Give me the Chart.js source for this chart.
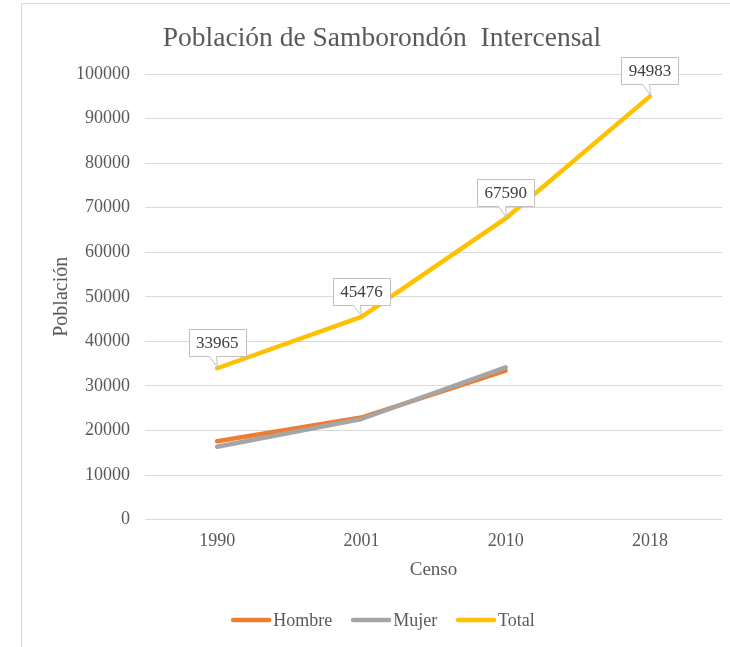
<!DOCTYPE html>
<html>
<head>
<meta charset="utf-8">
<script src="https://cdn.jsdelivr.net/npm/chart.js@4.4.0/dist/chart.umd.min.js"></script>
<style>
html, body { margin: 0; padding: 0; background: #fff; overflow: hidden; }
#marco { position: absolute; left: 21px; top: 3px; width: 728px; height: 660px; border-left: 1px solid #d9d9d9; border-top: 1px solid #d9d9d9; }
canvas { display: block; }
</style>
</head>
<body>
<div id="marco"><canvas id="grafico" width="728" height="643"></canvas></div>
<script>
// Datos del censo
const censos = ['1990', '2001', '2010', '2018'];
const hombres = [17600, 22900, 33430, null];
const mujeres = [16365, 22576, 34160, null];
const totales = [33965, 45476, 67590, 94983];
const titulo = 'Población de Samborondón  Intercensal';

const fuente = "'Liberation Serif', 'Times New Roman', serif";
const gris = '#595959';

// Titulo centrado en todo el recuadro
const cabecera = {
    id: 'cabecera',
    afterDraw(chart) {
        const ctx = chart.ctx;
        ctx.save();
        ctx.font = '27.5px ' + fuente;
        ctx.fillStyle = gris;
        ctx.textAlign = 'center';
        ctx.textBaseline = 'middle';
        ctx.fillText(titulo, 360, 35);
        ctx.restore();
    }
};

// Cuadros con el valor del total
const etiquetas = {
    id: 'etiquetas',
    afterDatasetsDraw(chart) {
        const ctx = chart.ctx;
        const meta = chart.getDatasetMeta(2);
        ctx.save();
        ctx.font = '17px ' + fuente;
        ctx.textAlign = 'center';
        ctx.textBaseline = 'middle';
        meta.data.forEach(function(p, i) {
            const txt = String(totales[i]);
            const w = Math.round(ctx.measureText(txt).width + 14);
            const h = 27;
            const px = Math.round(p.x) + 0.5;
            const x0 = Math.round(p.x - w / 2) + 0.5;
            const yb = Math.round(p.y - 12) + 0.5;
            const y0 = yb - h;
            ctx.beginPath();
            ctx.moveTo(x0, y0);
            ctx.lineTo(x0 + w, y0);
            ctx.lineTo(x0 + w, yb);
            ctx.lineTo(px - 1, yb);
            ctx.lineTo(px, p.y - 1);
            ctx.lineTo(px - 8, yb);
            ctx.lineTo(x0, yb);
            ctx.closePath();
            ctx.fillStyle = '#fff';
            ctx.fill();
            ctx.strokeStyle = '#bfbfbf';
            ctx.lineWidth = 1;
            ctx.stroke();
            ctx.fillStyle = '#404040';
            ctx.fillText(txt, p.x, y0 + h / 2 + 1);
        });
        ctx.restore();
    }
};

// Leyenda abajo, dibujada a mano
const leyenda = {
    id: 'leyenda',
    afterDraw(chart) {
        const ctx = chart.ctx;
        const ds = chart.data.datasets;
        ctx.save();
        ctx.font = '18px ' + fuente;
        const linea = 40, hueco = 2, sep = 19;
        let total = 0;
        ds.forEach(function(d, i) {
            total += linea + hueco + ctx.measureText(d.label).width + (i < ds.length - 1 ? sep : 0);
        });
        let x = chart.width / 2 - total / 2 - 3;
        const y = 616;
        ctx.textBaseline = 'middle';
        ds.forEach(function(d) {
            ctx.strokeStyle = d.borderColor;
            ctx.lineWidth = 4.5;
            ctx.lineCap = 'round';
            ctx.beginPath();
            ctx.moveTo(x + 2, y);
            ctx.lineTo(x + linea - 2, y);
            ctx.stroke();
            x += linea + hueco;
            ctx.fillStyle = gris;
            ctx.fillText(d.label, x, y + 1);
            x += ctx.measureText(d.label).width + sep;
        });
        ctx.restore();
    }
};

new Chart(document.getElementById('grafico'), {
    type: 'line',
    data: {
        labels: censos,
        datasets: [
            { label: 'Hombre', data: hombres, borderColor: '#ED7D31', order: 3 },
            { label: 'Mujer', data: mujeres, borderColor: '#A5A5A5', order: 2 },
            { label: 'Total', data: totales, borderColor: '#FFC000', order: 1 }
        ]
    },
    options: {
        responsive: false,
        animation: false,
        elements: {
            line: { borderWidth: 4.5, tension: 0, borderCapStyle: 'round', borderJoinStyle: 'round' },
            point: { radius: 0, hoverRadius: 0 }
        },
        layout: { padding: { top: 70, right: 28, bottom: 66, left: 0 } },
        plugins: {
            legend: { display: false },
            tooltip: { enabled: false },
            title: { display: false }
        },
        scales: {
            x: {
                offset: true,
                grid: { display: false, drawTicks: false },
                border: { display: false },
                ticks: { color: gris, font: { family: fuente, size: 18 }, padding: 11 },
                title: { display: true, text: 'Censo', color: gris, font: { family: fuente, size: 19 }, padding: { top: -5, bottom: 0 } }
            },
            y: {
                min: 0,
                max: 100000,
                afterFit: function(s) { s.width = 123; },
                grid: { color: '#d9d9d9', lineWidth: 1, drawTicks: false },
                border: { display: false },
                ticks: {
                    stepSize: 10000,
                    color: gris,
                    font: { family: fuente, size: 18 },
                    padding: 15,
                    callback: function(v) { return String(v); }
                },
                title: { display: true, text: 'Población', color: gris, font: { family: fuente, size: 20 }, padding: { top: 28, bottom: 0 } }
            }
        }
    },
    plugins: [cabecera, etiquetas, leyenda]
});
</script>
</body>
</html>
